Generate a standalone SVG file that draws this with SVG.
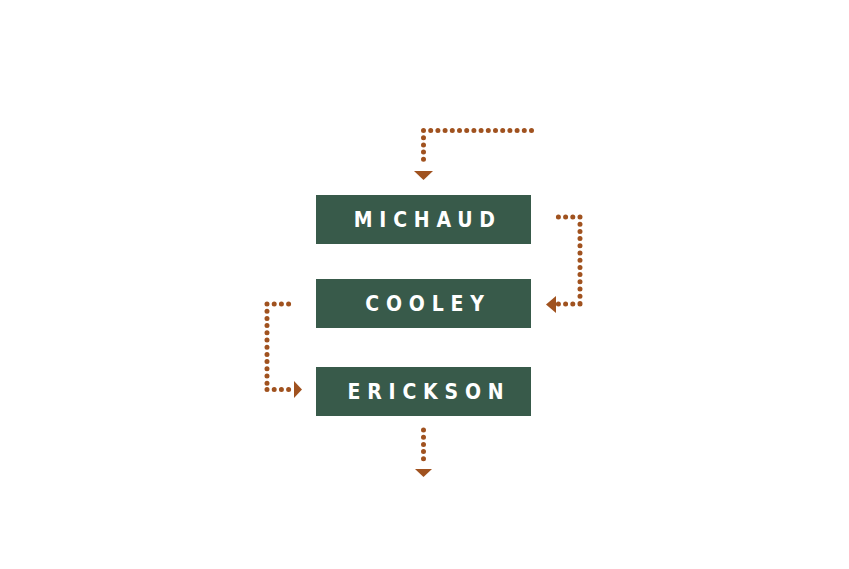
<svg xmlns="http://www.w3.org/2000/svg" width="849" height="569" viewBox="0 0 849 569">
<style>
.box{fill:#385a4a}
.lbl{fill:#fff;font-family:"Liberation Sans Narrow","DejaVu Sans Condensed","Liberation Sans",sans-serif;font-weight:bold;font-size:21px;letter-spacing:6.8px;text-anchor:middle}
.dot{fill:none;stroke:#a0521f;stroke-width:5;stroke-linecap:round;stroke-dasharray:0 7.2}
.head{fill:#a0521f}
</style>
<rect width="849" height="569" fill="#fff"/>
<g id="michaud"><rect class="box" x="316" y="195" width="215" height="49"/><text class="lbl" x="427.8" y="227">MICHAUD</text></g>
<g id="cooley"><rect class="box" x="316" y="279" width="215" height="49"/><text class="lbl" x="428" y="311">COOLEY</text></g>
<g id="erickson"><rect class="box" x="316" y="367" width="215" height="49"/><text class="lbl" x="429" y="399">ERICKSON</text></g>
<g id="connectors">
<path class="dot" d="M423.5 130.5 H532 M423.5 130.5 V166"/>
<polygon class="head" points="414,171 433,171 423.5,180"/>
<path class="dot" d="M580 217 H558 M580 217 V304 M580 304 H557"/>
<polygon class="head" points="556,296 556,313 546,304.5"/>
<path class="dot" d="M267 304 H289 M267 304 V389.5 M267 389.5 H290"/>
<polygon class="head" points="294,381 294,398 302,389.5"/>
<path class="dot" d="M423.5 430 V465"/>
<polygon class="head" points="415,469 432,469 423.5,477"/>
</g>
</svg>
